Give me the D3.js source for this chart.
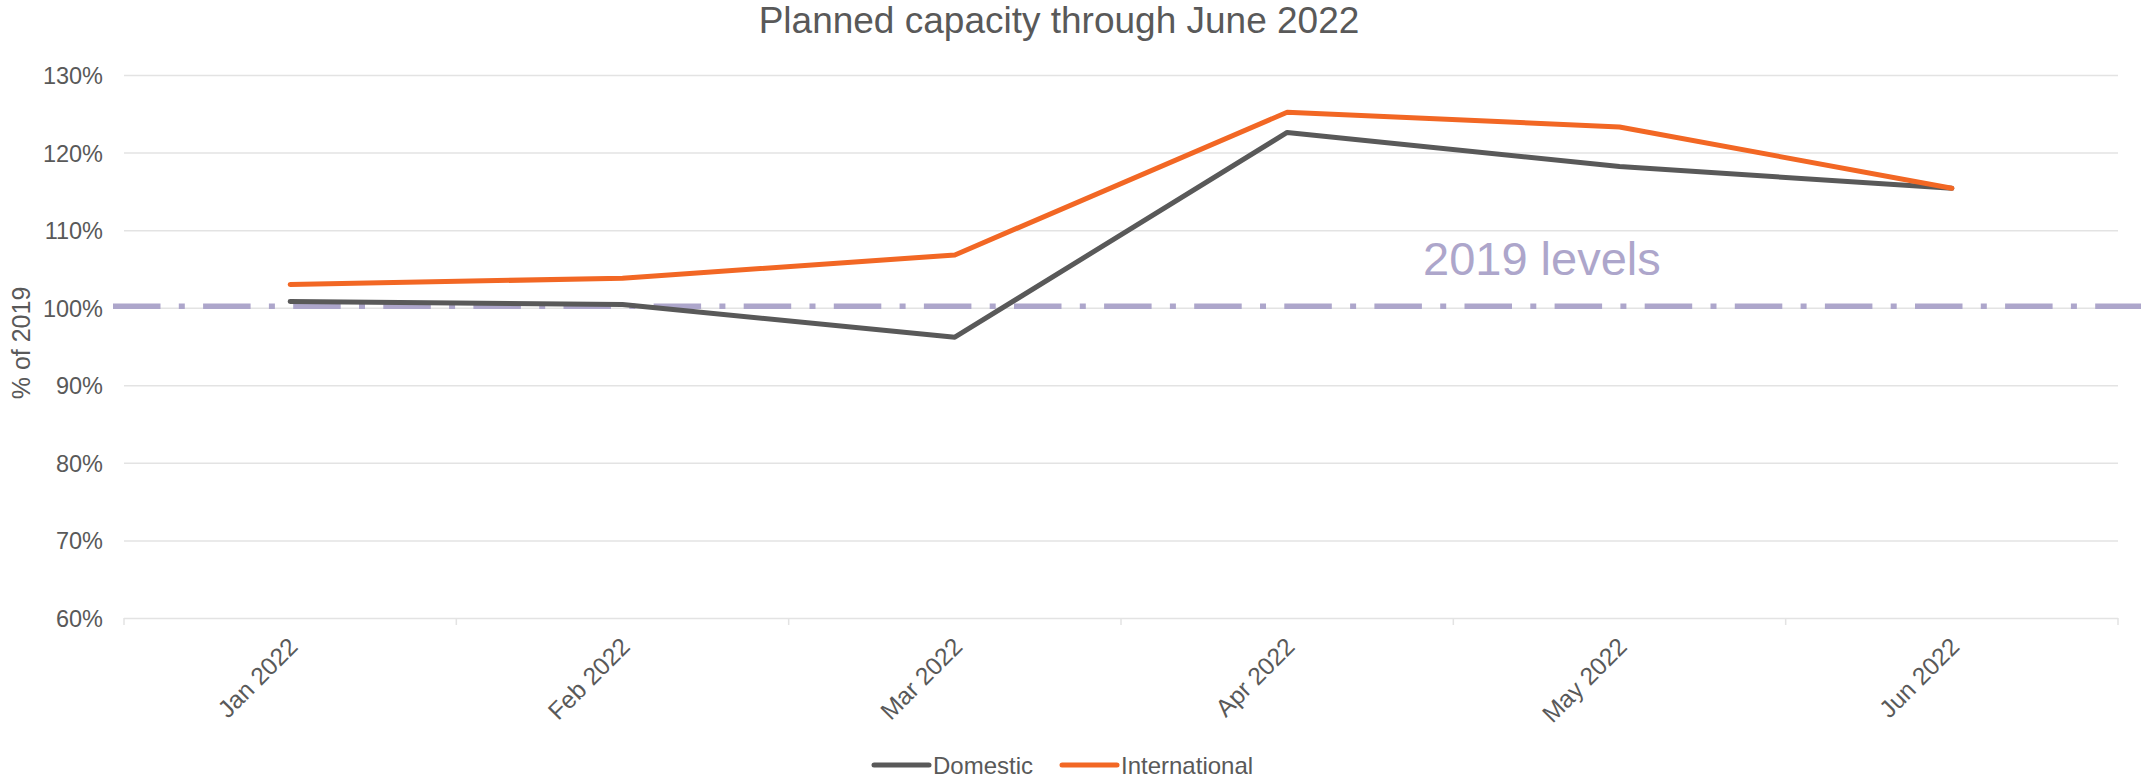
<!DOCTYPE html>
<html>
<head>
<meta charset="utf-8">
<script src="https://cdn.jsdelivr.net/npm/d3@7"></script>
<style>
  body { margin: 0; background: #fff; }
  text { font-family: "Liberation Sans", Arial, sans-serif; fill: #595959; }
</style>
</head>
<body>
<svg id="chart"></svg>
<script>
const width = 2141;
const height = 779;
const margin = {top: 75, right: 23, bottom: 161, left: 124}; // plot box from the picture

// data
const months = ["Jan 2022", "Feb 2022", "Mar 2022", "Apr 2022", "May 2022", "Jun 2022"];
const domestic = [100.8, 100.4, 96.2, 122.6, 118.2, 115.4];
const international = [103.0, 103.8, 106.8, 125.2, 123.3, 115.4];
const yTicks = [60, 70, 80, 90, 100, 110, 120, 130];
const refLevel = 100.2;
const refLabel = "2019 levels";

const series = [
  {name: "Domestic", values: domestic, color: "#595959"},
  {name: "International", values: international, color: "#f26724"}
];

const svg = d3.select("#chart")
  .attr("width", width)
  .attr("height", height);

const x = d3.scaleBand()
  .domain(months)
  .range([margin.left, width - margin.right]);

const y = d3.scaleLinear()
  .domain([60, 130])
  .range([height - margin.bottom, margin.top]);

// title
svg.append("text")
  .attr("x", 1059)
  .attr("y", 33)
  .attr("text-anchor", "middle")
  .style("font-size", "37px")
  .text("Planned capacity through June 2022");

// gridlines + y labels
const yAxis = svg.append("g")
  .attr("transform", `translate(${margin.left},0)`)
  .call(d3.axisLeft(y)
    .tickValues(yTicks)
    .tickSize(-(width - margin.left - margin.right))
    .tickFormat(d => d + "%"));

yAxis.select(".domain").remove();
yAxis.selectAll("line")
  .attr("stroke", "#e3e3e3")
  .attr("stroke-width", 1.5);
yAxis.selectAll("text")
  .attr("x", -21)
  .attr("dy", "0.36em")
  .style("font-size", "23.5px")
  .style("font-family", "'Liberation Sans', Arial, sans-serif")
  .attr("fill", "#595959");

// y title
svg.append("text")
  .attr("transform", "translate(30,343) rotate(-90)")
  .attr("text-anchor", "middle")
  .style("font-size", "25px")
  .text("% of 2019");

// x axis ticks at band edges
const edges = months.map(m => x(m)).concat([x.range()[1]]);
svg.append("g")
  .selectAll("line")
  .data(edges)
  .join("line")
  .attr("x1", d => d)
  .attr("x2", d => d)
  .attr("y1", y(60))
  .attr("y2", y(60) + 7)
  .attr("stroke", "#e3e3e3")
  .attr("stroke-width", 1.5);

// x labels, rotated
svg.append("g")
  .selectAll("text")
  .data(months)
  .join("text")
  .attr("text-anchor", "end")
  .attr("transform", d => `translate(${x(d) + x.bandwidth() / 2 + 9},${y(60) + 30}) rotate(-45)`)
  .style("font-size", "24.5px")
  .text(d => d);

// 2019 reference line
svg.append("line")
  .attr("x1", 113)
  .attr("x2", width)
  .attr("y1", y(refLevel))
  .attr("y2", y(refLevel))
  .attr("stroke", "#ada6cb")
  .attr("stroke-width", 5.5)
  .attr("stroke-dasharray", "47.5 18.3 6 18.3");

svg.append("text")
  .attr("x", 1423)
  .attr("y", 275)
  .style("font-size", "47px")
  .style("fill", "#ada6cb")
  .text(refLabel);

// series lines
const line = d3.line()
  .x((d, i) => x(months[i]) + x.bandwidth() / 2)
  .y(d => y(d));

svg.append("g")
  .selectAll("path")
  .data(series)
  .join("path")
  .attr("fill", "none")
  .attr("stroke", d => d.color)
  .attr("stroke-width", 5)
  .attr("stroke-linecap", "round")
  .attr("stroke-linejoin", "round")
  .attr("d", d => line(d.values));

// legend
const legendX = [874, 1062];
const legend = svg.append("g")
  .selectAll("g")
  .data(series)
  .join("g")
  .attr("transform", (d, i) => `translate(${legendX[i]},765)`);

legend.append("line")
  .attr("x1", 0)
  .attr("x2", 55)
  .attr("stroke", d => d.color)
  .attr("stroke-width", 5)
  .attr("stroke-linecap", "round");

legend.append("text")
  .attr("x", 59)
  .attr("dy", "0.36em")
  .style("font-size", "24px")
  .text(d => d.name);
</script>
</body>
</html>
